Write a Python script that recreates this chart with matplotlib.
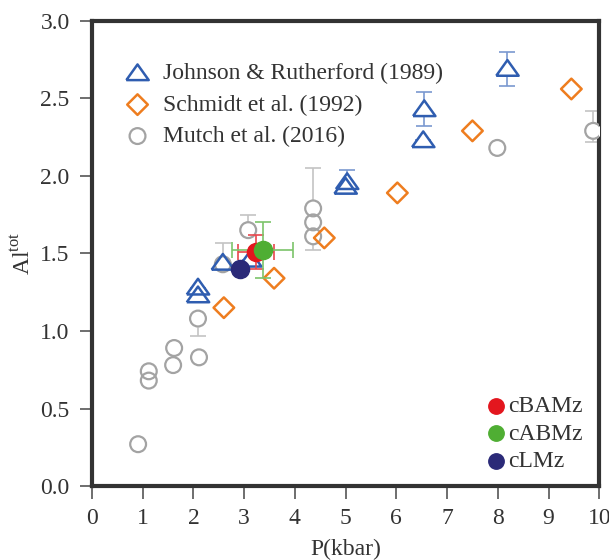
import matplotlib.pyplot as plt
import numpy as np

plt.rcParams['font.family'] = ['Liberation Serif', 'DejaVu Serif']
plt.rcParams['mathtext.fontset'] = 'custom'
plt.rcParams['mathtext.rm'] = 'Liberation Serif'

# Johnson & Rutherford (1989)
jr_p = [8.19, 6.55, 6.53, 5.03, 5.00, 2.58, 3.12, 2.09, 2.09]
jr_al = [2.69, 2.43, 2.23, 1.96, 1.93, 1.44, 1.46, 1.28, 1.23]
jr_err = [0.11, 0.11, 0.0, 0.08, 0.0, 0.0, 0.0, 0.0, 0.04]

# Schmidt et al. (1992)
sc_p = [9.45, 7.50, 6.02, 4.58, 3.59, 2.60]
sc_al = [2.56, 2.29, 1.89, 1.60, 1.34, 1.15]

# Mutch et al. (2016)
mu_p = [9.88, 7.99, 4.36, 4.36, 4.36, 3.08, 2.58, 2.09, 2.11,
        1.62, 1.60, 1.12, 1.12, 0.91]
mu_al = [2.29, 2.18, 1.79, 1.70, 1.61, 1.65, 1.43, 1.08, 0.83,
         0.89, 0.78, 0.74, 0.68, 0.27]
mu_err_lo = [0.07, 0, 0, 0.18, 0, 0.0, 0.0, 0.11, 0, 0, 0, 0, 0, 0]
mu_err_hi = [0.13, 0, 0, 0.35, 0, 0.10, 0.14, 0.0, 0, 0, 0, 0, 0, 0]

# samples
samples = ['cBAMz', 'cABMz', 'cLMz']
s_p = [3.23, 3.37, 2.92]
s_al = [1.51, 1.52, 1.40]
s_perr = [0.35, 0.60, 0.0]
s_alerr = [0.11, 0.18, 0.0]
s_colors = ['#e3161e', '#4fae33', '#2b2a78']

fig = plt.figure(figsize=(6.09, 5.60), dpi=100)
ax = fig.add_axes([0.151, 0.132, 0.833, 0.831])

blue = '#2f5db0'
orange = '#ee7d1f'
gray = '#a3a3a3'

# flat triangle like the original
tri = [(-1.0, -0.62), (1.0, -0.62), (0.0, 0.78), (-1.0, -0.62)]

# error bars first, markers hide them inside
ax.errorbar(mu_p, mu_al, yerr=[mu_err_lo, mu_err_hi], fmt='none',
            ecolor='#c4c4c4', elinewidth=1.2, capsize=6, capthick=1.2, zorder=2)
ax.errorbar(jr_p, jr_al, yerr=jr_err, fmt='none', ecolor='#7a98d0',
            elinewidth=1.2, capsize=6, capthick=1.2, zorder=2)

# white faces
ax.scatter(mu_p, mu_al, s=130, marker='o', color='white', linewidths=0,
           zorder=3)
ax.scatter(sc_p, sc_al, s=110, marker='D', color='white', linewidths=0,
           zorder=3)
ax.scatter(jr_p, jr_al, s=260, marker=tri, color='white', linewidths=0,
           zorder=3.5)

# outlines
h_mu = ax.scatter(mu_p, mu_al, s=130, marker='o', facecolors='none',
                  edgecolors=gray, linewidths=1.6, zorder=4,
                  label='Mutch et al. (2016)')
h_sc = ax.scatter(sc_p, sc_al, s=110, marker='D', facecolors='none',
                  edgecolors=orange, linewidths=1.8, zorder=4,
                  label='Schmidt et al. (1992)')
h_jr = ax.scatter(jr_p, jr_al, s=260, marker=tri, facecolors='none',
                  edgecolors=blue, linewidths=1.8, zorder=4.5,
                  label='Johnson & Rutherford (1989)')

# sample points
err_colors = ['#e8474d', '#7cc46a', '#2b2a78']
sample_handles = []
for i in range(len(samples)):
    if s_perr[i] > 0:
        ax.errorbar(s_p[i], s_al[i], xerr=s_perr[i], yerr=s_alerr[i],
                    fmt='none', ecolor=err_colors[i], elinewidth=1.2,
                    capsize=6, capthick=1.2, zorder=5)
    h = ax.scatter(s_p[i], s_al[i], s=170, color=s_colors[i], zorder=6,
                   label=samples[i])
    sample_handles.append(h)

ax.set_xlim(0, 10)
ax.set_ylim(0, 3.0)
ax.set_xticks(range(0, 11))
ax.set_yticks(np.arange(0, 3.01, 0.5))
ax.set_yticklabels(['0.0', '0.5', '1.0', '1.5', '2.0', '2.5', '3.0'])

for sp in ax.spines.values():
    sp.set_linewidth(3)
    sp.set_color('#333333')

ax.tick_params(direction='out', length=9, width=1.2, color='#555555',
               labelsize=17, labelcolor='#333333', pad=7)

ax.set_xlabel('P(kbar)', fontsize=17, color='#333333', labelpad=7)
ax.set_ylabel(r'Al$^{\mathregular{tot}}$', fontsize=17, color='#333333',
              labelpad=4)

leg1 = ax.legend(handles=[h_jr, h_sc, h_mu], loc='upper left',
                 bbox_to_anchor=(0.02, 0.945), frameon=False, fontsize=17,
                 handletextpad=0.3, labelspacing=0.42, borderaxespad=0.3,
                 labelcolor='#333333', handlelength=1.6)
ax.add_artist(leg1)
ax.legend(handles=sample_handles, loc='lower right',
          bbox_to_anchor=(0.985, 0.01), frameon=False,
          fontsize=17, handletextpad=0.1, labelspacing=0.25,
          borderaxespad=0.0, labelcolor='#333333', markerscale=0.85,
          handlelength=0.8)

fig.savefig('out.png', dpi=100)
